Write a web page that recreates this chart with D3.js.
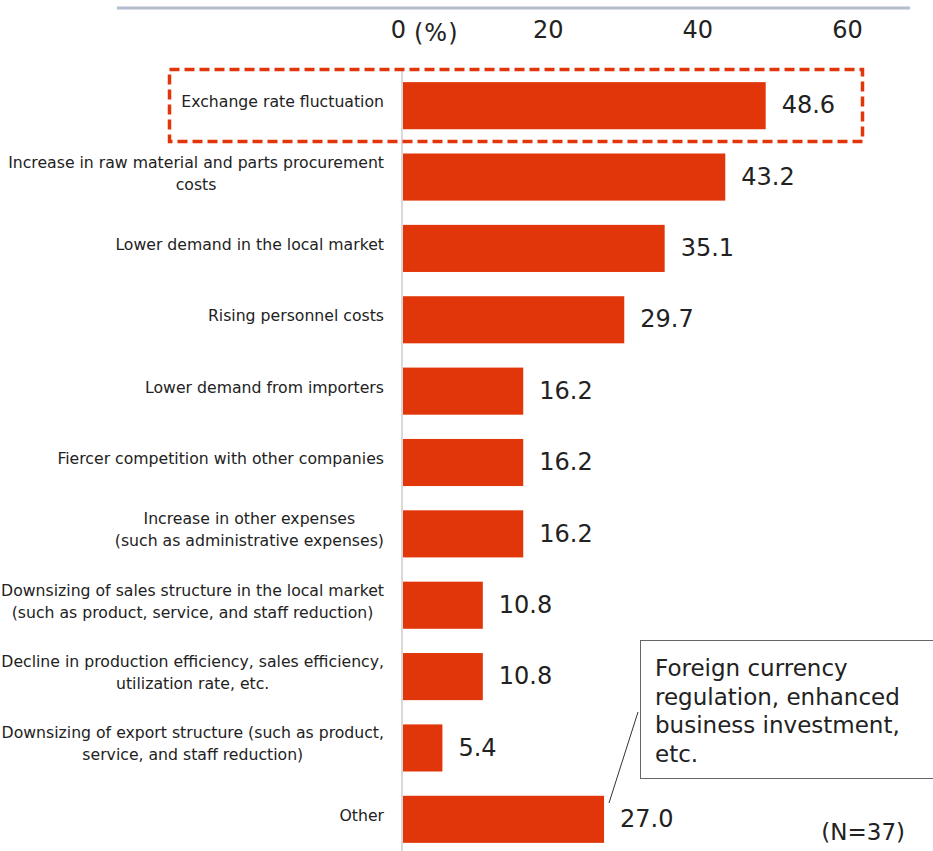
<!DOCTYPE html>
<html><head><meta charset="utf-8">
<script src="https://cdn.jsdelivr.net/npm/d3@7"></script>
<style>body{margin:0;background:#fff}svg{display:block}text{font-family:"DejaVu Sans",Verdana,sans-serif;fill:#222}</style>
</head><body><svg id="c" width="933" height="851"></svg>
<script>
const categories = [
  ["Exchange rate fluctuation"],
  ["Increase in raw material and parts procurement","costs"],
  ["Lower demand in the local market"],
  ["Rising personnel costs"],
  ["Lower demand from importers"],
  ["Fiercer competition with other companies"],
  ["Increase in other expenses","(such as administrative expenses)"],
  ["Downsizing of sales structure in the local market","(such as product, service, and staff reduction)"],
  ["Decline in production efficiency, sales efficiency,","utilization rate, etc."],
  ["Downsizing of export structure (such as product,","service, and staff reduction)"],
  ["Other"]
];
const values = [48.6, 43.2, 35.1, 29.7, 16.2, 16.2, 16.2, 10.8, 10.8, 5.4, 27.0];
const tickValues = [0, 20, 40, 60];
const calloutLines = ["Foreign currency","regulation, enhanced","business investment,","etc."];
const noteText = "(N=37)";

const svg = d3.select("#c");
const x = d3.scaleLinear().domain([0, 60]).range([402, 851]);
const y = d3.scaleBand().domain(d3.range(categories.length)).range([70, 855]).paddingInner(0.34).paddingOuter(0.17);
const red = "#E1360A";

// top rule
svg.append("line").attr("x1",117).attr("x2",910).attr("y1",8).attr("y2",8)
  .attr("stroke","#b4bccf").attr("stroke-width",3);

// top axis tick labels
const axis = d3.axisTop(x).tickValues(tickValues).tickSize(0).tickFormat(d3.format("d"));
const ag = svg.append("g").attr("transform","translate(-4,41)").call(axis);
ag.select(".domain").remove();
ag.selectAll("text").attr("font-size",24).attr("fill","#222").attr("font-family",'"DejaVu Sans",Verdana,sans-serif');
svg.append("text").attr("x", x(0)+12).attr("y", 41).attr("font-size",24).attr("letter-spacing",1).text("(%)");

// vertical axis line
svg.append("line").attr("x1",x(0)).attr("x2",x(0)).attr("y1",68).attr("y2",851)
  .attr("stroke","#d9d9d9").attr("stroke-width",2);

// bars
svg.selectAll("rect.bar").data(values).join("rect").attr("class","bar")
  .attr("x", x(0)+1).attr("y",(d,i)=>y(i)).attr("width",d=>x(d)-x(0)-1).attr("height",y.bandwidth())
  .attr("fill",red);

// value labels
svg.selectAll("text.val").data(values).join("text").attr("class","val")
  .attr("x",d=>x(d)+16).attr("y",(d,i)=>y(i)+y.bandwidth()/2-1).attr("dy","0.36em")
  .attr("font-size",24).text(d=>d.toFixed(1));

// category labels
const lg = svg.append("g");
categories.forEach((lines,i)=>{
  const cy = y(i)+y.bandwidth()/2 - 4;
  const lh = 22;
  const g = lg.append("g");
  const ts = lines.map((t,j)=> g.append("text").attr("font-size",15.7)
      .attr("y", cy + (j-(lines.length-1)/2)*lh).attr("dy","0.35em").text(t));
  const widths = ts.map(t=>t.node().getComputedTextLength());
  const maxW = d3.max(widths);
  const right = 384;
  ts.forEach(t=>t.attr("x", right - maxW/2).attr("text-anchor","middle"));
});

// dashed highlight box
svg.append("rect").attr("x",169.5).attr("y",69.5).attr("width",693).attr("height",72)
  .attr("fill","none").attr("stroke",red).attr("stroke-width",3.5).attr("stroke-dasharray","10,5");

// callout
svg.append("line").attr("x1",638).attr("y1",712).attr("x2",609).attr("y2",803)
  .attr("stroke","#333").attr("stroke-width",1);
svg.append("rect").attr("x",640.5).attr("y",640.5).attr("width",300).attr("height",138)
  .attr("fill","#fff").attr("stroke","#666").attr("stroke-width",1);
calloutLines.forEach((t,j)=>{
  svg.append("text").attr("x",655).attr("y",668+j*28.7).attr("dy","0.35em").attr("font-size",23).text(t);
});

svg.append("text").attr("x",905).attr("y",832).attr("dy","0.35em").attr("text-anchor","end")
  .attr("font-size",23).text(noteText);
</script></body></html>
